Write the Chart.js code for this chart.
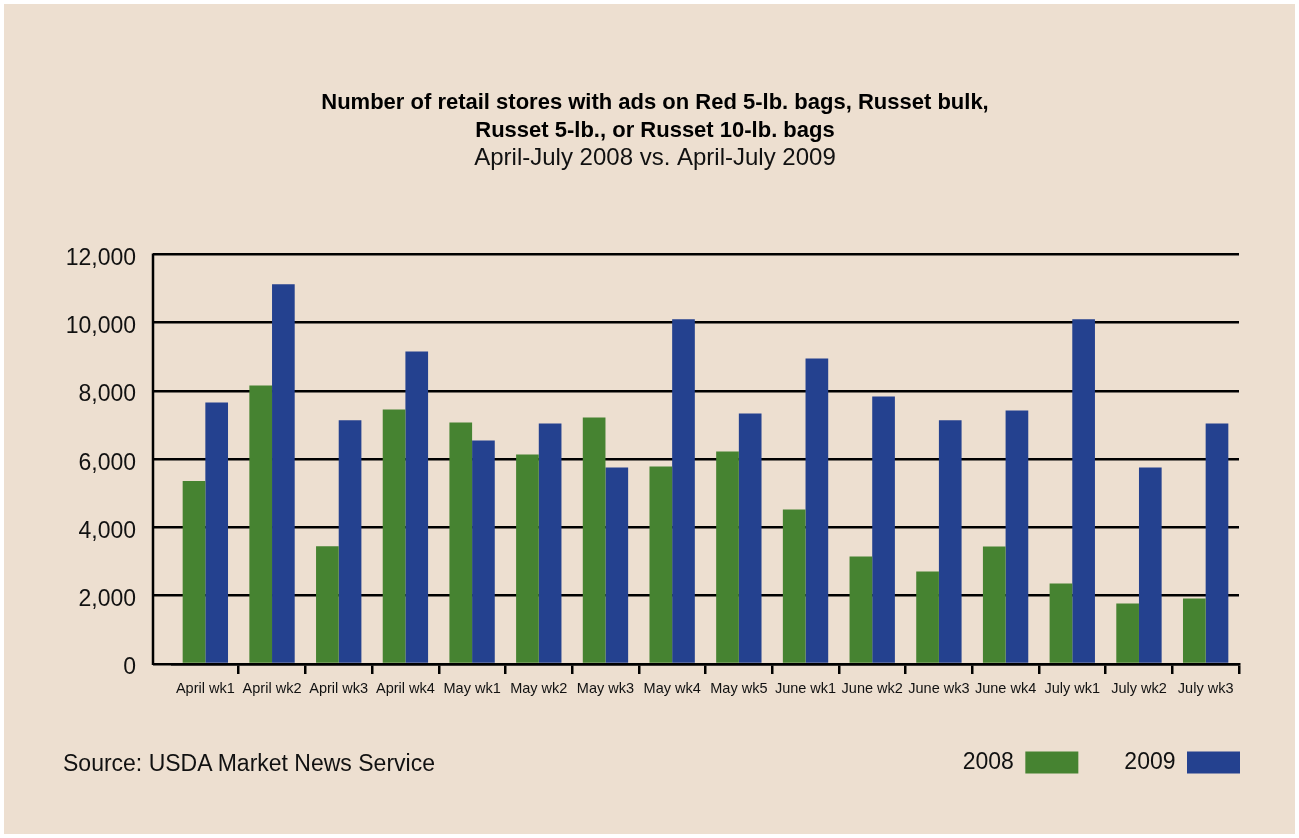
<!DOCTYPE html>
<html>
<head>
<meta charset="utf-8">
<script src="https://cdn.jsdelivr.net/npm/chart.js@4/dist/chart.umd.min.js"></script>
<style>
  html, body { margin: 0; padding: 0; background: #fff; }
  #frame { position: absolute; left: 4px; top: 4px; width: 1291px; height: 830px; background: #eddfd0; }
  #wrap { position: absolute; left: 0; top: 0; width: 1299px; height: 838px; }
  #source { position: absolute; left: 63px; top: 750px; font: 23px "Liberation Sans", Arial, sans-serif; color: #111; }
</style>
</head>
<body>
<div id="frame"></div>
<div id="wrap"><canvas id="chart" width="1299" height="838"></canvas></div>
<div id="source">Source: USDA Market News Service</div>
<script>
// semaines avril-juillet
const weeks = [
  "April wk1", "April wk2", "April wk3", "April wk4",
  "May wk1", "May wk2", "May wk3", "May wk4", "May wk5",
  "June wk1", "June wk2", "June wk3", "June wk4",
  "July wk1", "July wk2", "July wk3"
];
const stores2008 = [5360, 8160, 3450, 7460, 7080, 6140, 7220, 5790, 6230, 4530, 3150, 2710, 3440, 2360, 1770, 1920];
const stores2009 = [7660, 11130, 7140, 9160, 6550, 7050, 5760, 10100, 7340, 8950, 7840, 7140, 7430, 10100, 5760, 7050];
const yTicks = [0, 2000, 4000, 6000, 8000, 10000, 12000];

const titleLines = [
  "Number of retail stores with ads on Red 5-lb. bags, Russet bulk,",
  "Russet 5-lb., or Russet 10-lb. bags"
];
const subtitleText = "April-July 2008 vs. April-July 2009";

const GREEN = "#468331";
const BLUE = "#24418f";
const EXT = 19; // grid lines run past the bars on the left
const PAD_L = 24;
const PAD_R = 13;

// trait vertical de l'axe Y, un peu à gauche de la zone des barres
const yAxisLine = {
  id: "yAxisLine",
  afterDraw(chart) {
    const { ctx, chartArea } = chart;
    const x = chartArea.left - EXT;
    ctx.save();
    ctx.strokeStyle = "#000";
    ctx.lineWidth = 2.5;
    ctx.beginPath();
    ctx.moveTo(x, chartArea.top - 1);
    ctx.lineTo(x, chartArea.bottom + 1);
    ctx.stroke();
    ctx.restore();
  }
};

new Chart(document.getElementById("chart"), {
  type: "bar",
  data: {
    labels: weeks,
    datasets: [
      { label: "2008", data: stores2008, backgroundColor: GREEN, borderWidth: 0 },
      { label: "2009", data: stores2009, backgroundColor: BLUE, borderWidth: 0 }
    ]
  },
  options: {
    responsive: false,
    animation: false,
    datasets: { bar: { categoryPercentage: 0.68, barPercentage: 1.0 } },
    layout: { padding: { left: PAD_L, right: PAD_R, top: 89, bottom: 54 } },
    plugins: {
      title: {
        display: true,
        text: titleLines,
        color: "#000",
        font: { family: "'Liberation Sans Narrow', 'Liberation Sans', sans-serif", size: 22, weight: "bold", lineHeight: 1.27 },
        padding: { top: 0, bottom: 0 }
      },
      subtitle: {
        display: true,
        text: subtitleText,
        color: "#111",
        font: { family: "'Liberation Sans', sans-serif", size: 24, lineHeight: 1.15 },
        padding: { top: 0, bottom: 82 }
      },
      legend: {
        position: "bottom",
        align: "start",
        rtl: true,
        reverse: true,
        labels: {
          boxWidth: 53,
          boxHeight: 22,
          padding: 46,
          color: "#111",
          font: { family: "'Liberation Sans', sans-serif", size: 23 }
        }
      },
      tooltip: { enabled: false }
    },
    scales: {
      x: {
        afterFit: scale => { scale.height = 41; },
        grid: {
          offset: true,
          drawOnChartArea: false,
          drawTicks: true,
          tickLength: 10,
          lineWidth: 2.5,
          color: ctx => ctx.index === 0 ? "rgba(0,0,0,0)" : "#000"
        },
        border: { display: true, color: "#000", width: 2.5 },
        ticks: {
          autoSkip: false,
          maxRotation: 0,
          padding: 6,
          color: "#111",
          font: { family: "'Liberation Sans', sans-serif", size: 14.5 }
        }
      },
      y: {
        min: 0,
        max: 12000,
        afterFit: scale => { scale.width = 172 - PAD_L; },
        afterBuildTicks: scale => { scale.ticks = yTicks.map(v => ({ value: v })); },
        grid: {
          color: "#000",
          lineWidth: 2.5,
          drawTicks: true,
          tickLength: EXT
        },
        border: { display: false },
        ticks: {
          padding: 17,
          labelOffset: 4,
          color: "#111",
          font: { family: "'Liberation Sans', sans-serif", size: 23 },
          callback: v => v.toLocaleString("en-US")
        }
      },
      // marge vide à droite, pour garder le titre centré sur la page
      yRight: {
        position: "right",
        min: 0,
        max: 12000,
        afterFit: scale => { scale.width = 60 - PAD_R; },
        grid: { display: false },
        border: { display: false },
        ticks: { display: false }
      }
    }
  },
  plugins: [yAxisLine]
});
</script>
</body>
</html>
